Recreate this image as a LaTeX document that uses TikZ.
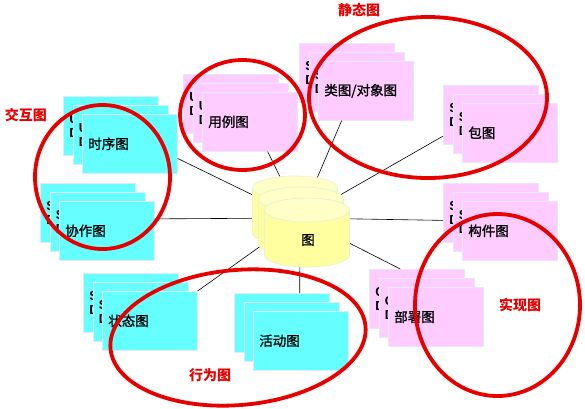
\documentclass[tikz,border=0pt]{standalone}
\usepackage{fontspec}
\setmainfont{Liberation Sans}
\newfontfamily\cjk{Noto Sans CJK SC}
\newfontfamily\cjkheavy[FakeBold=1.2]{Noto Sans CJK SC}
\definecolor{boxcyan}{RGB}{102,255,255}
\definecolor{boxpink}{RGB}{255,204,255}
\definecolor{boxedge}{RGB}{228,232,255}
\definecolor{cylbody}{RGB}{255,255,160}
\definecolor{cyltop}{RGB}{255,255,200}
\definecolor{cyledge}{RGB}{232,244,205}
\definecolor{ringred}{RGB}{230,0,0}
\tikzstyle{diagbox}=[draw=boxedge, line width=0.6pt, anchor=north west, minimum height=59pt, text width=83pt, inner xsep=6pt, inner ysep=0pt, align=left, font=\bfseries\fontsize{13}{14}\selectfont]
\tikzstyle{frontlabel}=[font=\cjkheavy\fontsize{13.5}{16}\selectfont]
\tikzstyle{spoke}=[draw, line width=0.6pt]
\tikzstyle{cylside}=[fill=cylbody, draw=cyledge, line width=0.8pt]
\tikzstyle{cylcap}=[fill=cyltop, draw=cyledge, line width=0.8pt]
\tikzstyle{ring}=[draw=ringred, line width=3.8pt]
\tikzstyle{ringlabel}=[text=ringred, font=\cjk\bfseries\fontsize{14}{16}\selectfont]

\begin{document}
\begin{tikzpicture}[x=1pt, y=-1pt]
    \useasboundingbox (0,0) rectangle (585,408);

    \foreach \name/\x/\y/\fillc/\ta/\tb/\lab in {seq/63/96/boxcyan/U/D/时序图, collab/40/183/boxcyan/S/D/协作图, usecase/183/74/boxpink/U/D/用例图, class/299/43/boxpink/S/D/{类图/对象图}, pkg/443/85/boxpink/S/D/包图, comp/443/183/boxpink/S/D/构件图, dep/369/269/boxpink/C/D/部署图, state/83/273/boxcyan/S/D/状态图, act/234/293/boxcyan/{}/{}/活动图}
    {
        \node[diagbox, fill=\fillc] (\name1) at (\x,\y) {\ta\\\tb};
        \node[diagbox, fill=\fillc] (\name2) at (\x+9.5,\y+9) {\ta\\\tb};
        \node[diagbox, frontlabel, fill=\fillc] (\name) at (\x+19,\y+18) {\lab};
    }

    \coordinate (hub) at (300,218);
    \foreach \src in {seq.-17, collab.14, usecase.-59, class.-129, pkg1.-156, comp1.-171, dep1.119, act1.59, state.north east}
        \path[spoke] (\src) -- (hub);

    \foreach \cx/\cy in {295/188, 301/199, 307/210}
    {
        \path[cylside] (\cx-42.5,\cy) -- (\cx-42.5,\cy+45) arc[start angle=180, end angle=0, x radius=42.5, y radius=12] -- (\cx+42.5,\cy) -- cycle;
        \path[cylcap] (\cx,\cy) ellipse (42.5 and 12);
    }
    \node[frontlabel] (db) at (308,240) {图};

    \draw[ring] (102.5,177) ellipse (67.5 and 72);
    \draw[ring] (242.5,115) ellipse (62.5 and 55);
    \draw[ring] (428,97.5) ellipse (119 and 80.5);
    \draw[ring, rotate around={5:(238,337.5)}] (238,337.5) ellipse (128 and 67.5);
    \draw[ring] (497.5,305) ellipse (82.5 and 91);

    \node[ringlabel] (interlbl) at (26,115) {交互图};
    \node[ringlabel] (staticlbl) at (359,10) {静态图};
    \node[ringlabel] (behavlbl) at (210,375) {行为图};
    \node[ringlabel] (impllbl) at (520,305) {实现图};
\end{tikzpicture}
\end{document}
